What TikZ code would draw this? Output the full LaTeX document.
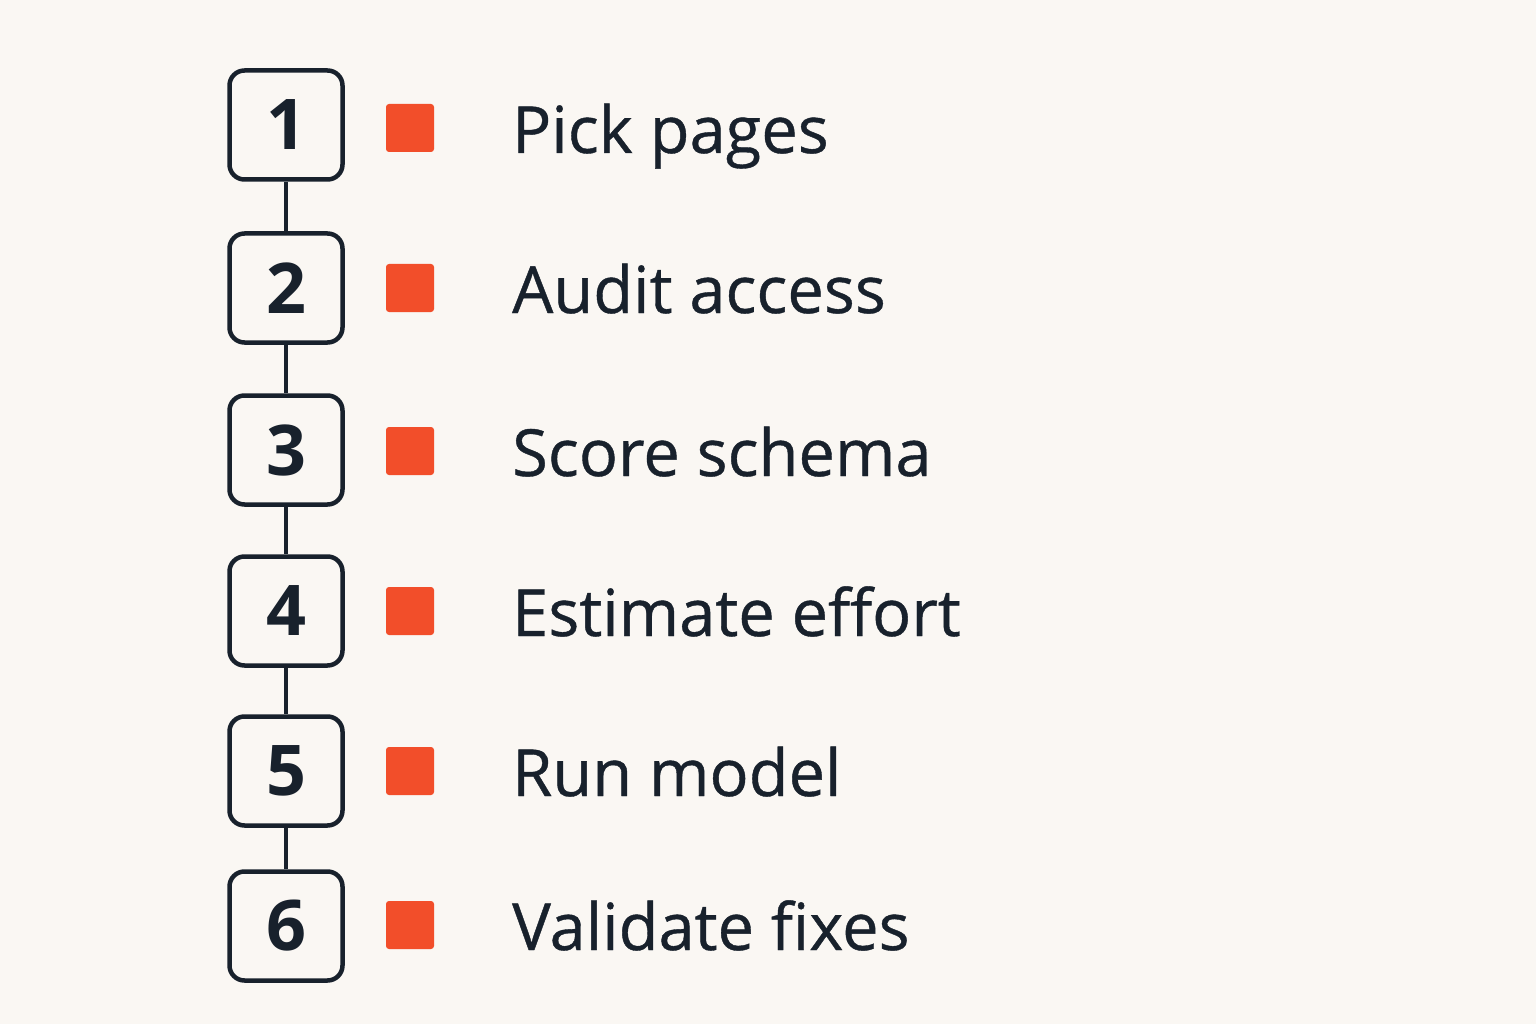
\documentclass[tikz,border=0pt]{standalone}
\usepackage{fontspec}
\setmainfont{Open Sans}
\newfontfamily\labelfont[FakeBold=0.6]{Open Sans}
\definecolor{paper}{HTML}{FAF7F3}
\definecolor{ink}{HTML}{18212C}
\definecolor{flag}{HTML}{F24E2A}
\tikzset{
  stepbox/.style={draw=ink, line width=4.5pt, rounded corners=15pt, minimum width=113pt, minimum height=109pt, inner sep=0pt, font=\fontsize{70}{70}\selectfont\bfseries, text=ink},
  marker/.style={fill=flag, rounded corners=3pt, minimum size=48pt, inner sep=0pt},
  steplabel/.style={anchor=base west, inner sep=0pt, font=\labelfont\fontsize{65}{65}\selectfont, text=ink},
  link/.style={draw=ink, line width=3.5pt}
}
\begin{document}
\begin{tikzpicture}[x=1pt,y=-1pt]
\fill[paper] (0,0) rectangle (1536,1024);
\useasboundingbox (0,0) rectangle (1536,1024);
% steps
\node[stepbox] (n1) at (286,125) {1};
\node[stepbox] (n2) at (286,288) {2};
\node[stepbox] (n3) at (286,450) {3};
\node[stepbox] (n4) at (286,611) {4};
\node[stepbox] (n5) at (286,771) {5};
\node[stepbox] (n6) at (286,926) {6};
% links between steps
\draw[link] (n1.south) -- (n2.north);
\draw[link] (n2.south) -- (n3.north);
\draw[link] (n3.south) -- (n4.north);
\draw[link] (n4.south) -- (n5.north);
\draw[link] (n5.south) -- (n6.north);
% markers
\node[marker] (m1) at (410,128) {};
\node[marker] (m2) at (410,288) {};
\node[marker] (m3) at (410,451) {};
\node[marker] (m4) at (410,611) {};
\node[marker] (m5) at (410,771) {};
\node[marker] (m6) at (410,925) {};
% labels
\node[steplabel] (l1) at (512,153) {Pick pages};
\node[steplabel] (l2) at (512,313) {Audit access};
\node[steplabel] (l3) at (512,476) {Score schema};
\node[steplabel] (l4) at (512,636) {Estimate effort};
\node[steplabel] (l5) at (512,796) {Run model};
\node[steplabel] (l6) at (512,950) {Validate fixes};
\end{tikzpicture}
\end{document}
